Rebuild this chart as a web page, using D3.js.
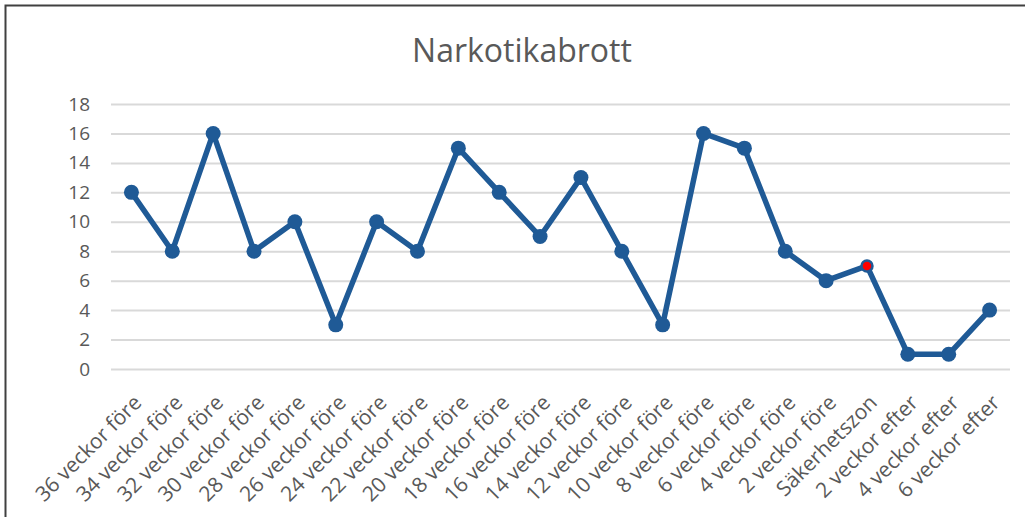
<!DOCTYPE html>
<html>
<head>
<meta charset="utf-8">
<script src="https://cdn.jsdelivr.net/npm/d3@7"></script>
<style>
  body { margin: 0; background: #fff; }
  svg { display: block; font-family: "Open Sans", sans-serif; }
</style>
</head>
<body>
<svg id="chart" width="1025" height="517"></svg>
<script>
const categories = [
  '36 veckor före', '34 veckor före', '32 veckor före', '30 veckor före',
  '28 veckor före', '26 veckor före', '24 veckor före', '22 veckor före',
  '20 veckor före', '18 veckor före', '16 veckor före', '14 veckor före',
  '12 veckor före', '10 veckor före', '8 veckor före', '6 veckor före',
  '4 veckor före', '2 veckor före', 'Säkerhetszon', '2 veckor efter',
  '4 veckor efter', '6 veckor efter'
];
const values = [12, 8, 16, 8, 10, 3, 10, 8, 15, 12, 9, 13, 8, 3, 16, 15, 8, 6, 7, 1, 1, 4];
const yTicks = [0, 2, 4, 6, 8, 10, 12, 14, 16, 18];
const highlight = 'Säkerhetszon';

const margin = { top: 104, right: 15, bottom: 147, left: 111 };
const width = 1025, height = 517;
const svg = d3.select('#chart');

// frame of the pasted chart (only top and left visible)
svg.append('rect')
  .attr('x', 5.5).attr('y', 5.5)
  .attr('width', 1040).attr('height', 540)
  .attr('fill', 'none').attr('stroke', '#404040').attr('stroke-width', 2);

svg.append('text')
  .attr('x', 522).attr('y', 62)
  .attr('text-anchor', 'middle')
  .attr('font-size', 32)
  .attr('fill', '#595959')
  .text('Narkotikabrott');

const g = svg.append('g')
  .attr('transform', `translate(${margin.left},${margin.top})`);
const innerW = 899;
const innerH = height - margin.top - margin.bottom - 1;

const x = d3.scalePoint().domain(categories).range([0, innerW]).padding(0.5);
const y = d3.scaleLinear().domain([0, 18]).range([innerH, 0]);

// gridlines
g.append('g')
  .call(d3.axisLeft(y).tickValues(yTicks).tickSize(-innerW).tickPadding(21))
  .call(a => a.select('.domain').remove())
  .call(a => a.selectAll('.tick line').attr('stroke', '#d9d9d9').attr('stroke-width', 2))
  .call(a => a.selectAll('.tick text')
    .attr('fill', '#595959').attr('font-size', 19).attr('font-family', '"Open Sans", sans-serif'));

// x labels
g.append('g')
  .attr('transform', `translate(0,${innerH})`)
  .call(d3.axisBottom(x).tickSize(0).tickPadding(0))
  .call(a => a.select('.domain').remove())
  .call(a => a.selectAll('.tick text')
    .attr('fill', '#595959').attr('font-size', 21).attr('font-family', '"Open Sans", sans-serif')
    .attr('text-anchor', 'end')
    .attr('dy', null).attr('y', 0)
    .attr('transform', 'translate(11,35) rotate(-45)'));

const line = d3.line()
  .x((d, i) => x(categories[i]))
  .y(d => y(d));

g.append('path')
  .datum(values)
  .attr('fill', 'none')
  .attr('stroke', '#1f5a96')
  .attr('stroke-width', 5.5)
  .attr('stroke-linejoin', 'round')
  .attr('d', line);

g.selectAll('circle')
  .data(values)
  .join('circle')
  .attr('cx', (d, i) => x(categories[i]))
  .attr('cy', d => y(d))
  .attr('r', (d, i) => categories[i] === highlight ? 5.5 : 7.5)
  .attr('fill', (d, i) => categories[i] === highlight ? '#ff0000' : '#1f5a96')
  .attr('stroke', '#1f5a96')
  .attr('stroke-width', (d, i) => categories[i] === highlight ? 2.5 : 0);
</script>
</body>
</html>
